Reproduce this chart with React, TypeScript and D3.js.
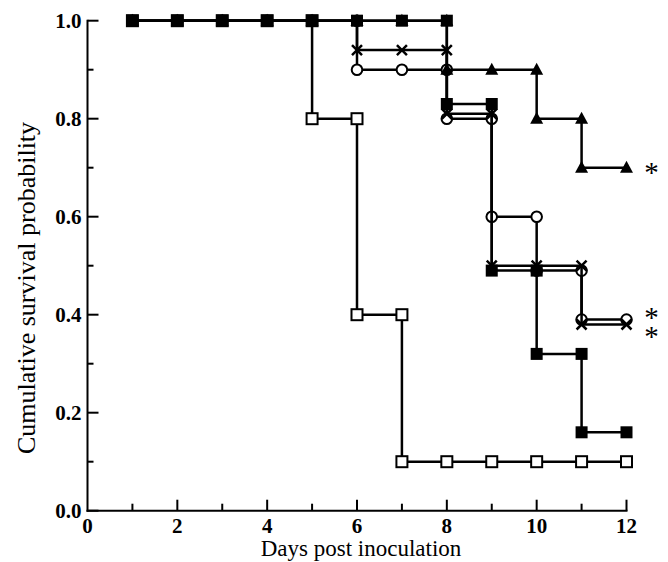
import React, { useRef, useEffect } from 'react';
import * as d3 from 'd3';

// days 1..12 and survival level at the end of each day (after any drop)
const days = [1, 2, 3, 4, 5, 6, 7, 8, 9, 10, 11, 12];
const openSquareValues = [1, 1, 1, 1, 0.8, 0.4, 0.1, 0.1, 0.1, 0.1, 0.1, 0.1];
const circleValues = [1, 1, 1, 1, 1, 0.9, 0.9, 0.8, 0.6, 0.49, 0.39, 0.39];
const crossValues = [1, 1, 1, 1, 1, 0.94, 0.94, 0.81, 0.5, 0.5, 0.38, 0.38];
const triangleValues = [1, 1, 1, 1, 1, 1, 1, 0.9, 0.9, 0.8, 0.7, 0.7];
const filledSquareValues = [1, 1, 1, 1, 1, 1, 1, 0.83, 0.49, 0.32, 0.16, 0.16];

// significance marks at the right end
const asteriskLevels = [0.7, 0.403, 0.365];

const xTicks = [0, 1, 2, 3, 4, 5, 6, 7, 8, 9, 10, 11, 12];
const yTicks = [0, 0.1, 0.2, 0.3, 0.4, 0.5, 0.6, 0.7, 0.8, 0.9, 1.0];

const xTitle = 'Days post inoculation';
const yTitle = 'Cumulative survival probability';

export default function App() {
  const svgRef = useRef<SVGSVGElement>(null);

  useEffect(() => {
    const w = 668;
    const h = 562;
    const font = '"Liberation Serif", "Times New Roman", serif';

    const svg = d3.select(svgRef.current);
    svg.selectAll('*').remove();
    svg.attr('width', w).attr('height', h);

    const x = d3.scaleLinear().domain([0, 12]).range([87.5, 626.5]);
    const y = d3.scaleLinear().domain([0, 1]).range([510.7, 20.7]);

    svg.append('rect').attr('width', w).attr('height', h).attr('fill', 'white');

    // axes (ticks point inward)
    const axes = svg.append('g').attr('stroke', 'black').attr('stroke-width', 2);
    axes.append('line')
      .attr('x1', x(0)).attr('x2', x(0))
      .attr('y1', y(1) - 1).attr('y2', y(0) + 1);
    axes.append('line')
      .attr('x1', x(0) - 1).attr('x2', x(12) + 1)
      .attr('y1', y(0)).attr('y2', y(0));

    yTicks.forEach((t, i) => {
      const major = i % 2 === 0;
      axes.append('line')
        .attr('x1', x(0)).attr('x2', x(0) + (major ? 11 : 6))
        .attr('y1', y(t)).attr('y2', y(t));
      if (major) {
        svg.append('text')
          .attr('x', x(0) - 6)
          .attr('y', y(t) + 7)
          .attr('text-anchor', 'end')
          .attr('font-family', font)
          .attr('font-weight', 'bold')
          .attr('font-size', 21)
          .text(t.toFixed(1));
      }
    });

    xTicks.forEach((t) => {
      const major = t % 2 === 0;
      if (t > 0) {
        axes.append('line')
          .attr('x1', x(t)).attr('x2', x(t))
          .attr('y1', y(0)).attr('y2', y(0) - (major ? 11 : 7));
      }
      if (major) {
        svg.append('text')
          .attr('x', x(t))
          .attr('y', y(0) + 22)
          .attr('text-anchor', 'middle')
          .attr('font-family', font)
          .attr('font-weight', 'bold')
          .attr('font-size', 21)
          .text(t);
      }
    });

    svg.append('text')
      .attr('x', 361)
      .attr('y', 556)
      .attr('text-anchor', 'middle')
      .attr('font-family', font)
      .attr('font-size', 23)
      .text(xTitle);

    svg.append('text')
      .attr('transform', `translate(35, 288) rotate(-90)`)
      .attr('text-anchor', 'middle')
      .attr('font-family', font)
      .attr('font-size', 26)
      .text(yTitle);

    // Kaplan-Meier step lines
    const line = d3.line<number>()
      .x((d, i) => x(days[i]))
      .y((d) => y(d))
      .curve(d3.curveStepAfter);

    const vertices = (vals: number[]) => {
      const pts: [number, number][] = [];
      vals.forEach((v, i) => {
        if (i > 0 && vals[i - 1] !== v) pts.push([days[i], vals[i - 1]]);
        pts.push([days[i], v]);
      });
      return pts;
    };

    const drawSeries = (vals: number[], marker: string) => {
      const g = svg.append('g');
      g.append('path')
        .datum(vals)
        .attr('fill', 'none')
        .attr('stroke', 'black')
        .attr('stroke-width', 2.5)
        .attr('d', line);

      vertices(vals).forEach(([d, v]) => {
        const cx = x(d);
        const cy = y(v);
        if (marker === 'filledSquare') {
          g.append('rect')
            .attr('x', cx - 6).attr('y', cy - 6)
            .attr('width', 12).attr('height', 12)
            .attr('fill', 'black');
        } else if (marker === 'openSquare') {
          g.append('rect')
            .attr('x', cx - 5.5).attr('y', cy - 5.5)
            .attr('width', 11).attr('height', 11)
            .attr('fill', 'white').attr('stroke', 'black').attr('stroke-width', 2);
        } else if (marker === 'circle') {
          g.append('circle')
            .attr('cx', cx).attr('cy', cy).attr('r', 5.3)
            .attr('fill', 'white').attr('stroke', 'black').attr('stroke-width', 2);
        } else if (marker === 'cross') {
          g.append('path')
            .attr('d', `M${cx - 5},${cy - 5}L${cx + 5},${cy + 5}M${cx - 5},${cy + 5}L${cx + 5},${cy - 5}`)
            .attr('stroke', 'black').attr('stroke-width', 2.5);
        } else if (marker === 'triangle') {
          g.append('path')
            .attr('d', `M${cx},${cy - 7}L${cx + 6.5},${cy + 5}L${cx - 6.5},${cy + 5}Z`)
            .attr('fill', 'black');
        }
      });
    };

    drawSeries(openSquareValues, 'openSquare');
    drawSeries(circleValues, 'circle');
    drawSeries(crossValues, 'cross');
    drawSeries(triangleValues, 'triangle');
    drawSeries(filledSquareValues, 'filledSquare');

    asteriskLevels.forEach((v) => {
      svg.append('text')
        .attr('x', x(12) + 25)
        .attr('y', y(v) + 14)
        .attr('text-anchor', 'middle')
        .attr('font-family', font)
        .attr('font-size', 29)
        .text('*');
    });
  }, []);

  return (
    <div className="App">
      <svg ref={svgRef} style={{ position: 'absolute', left: 0, top: 0 }}></svg>
    </div>
  );
}
